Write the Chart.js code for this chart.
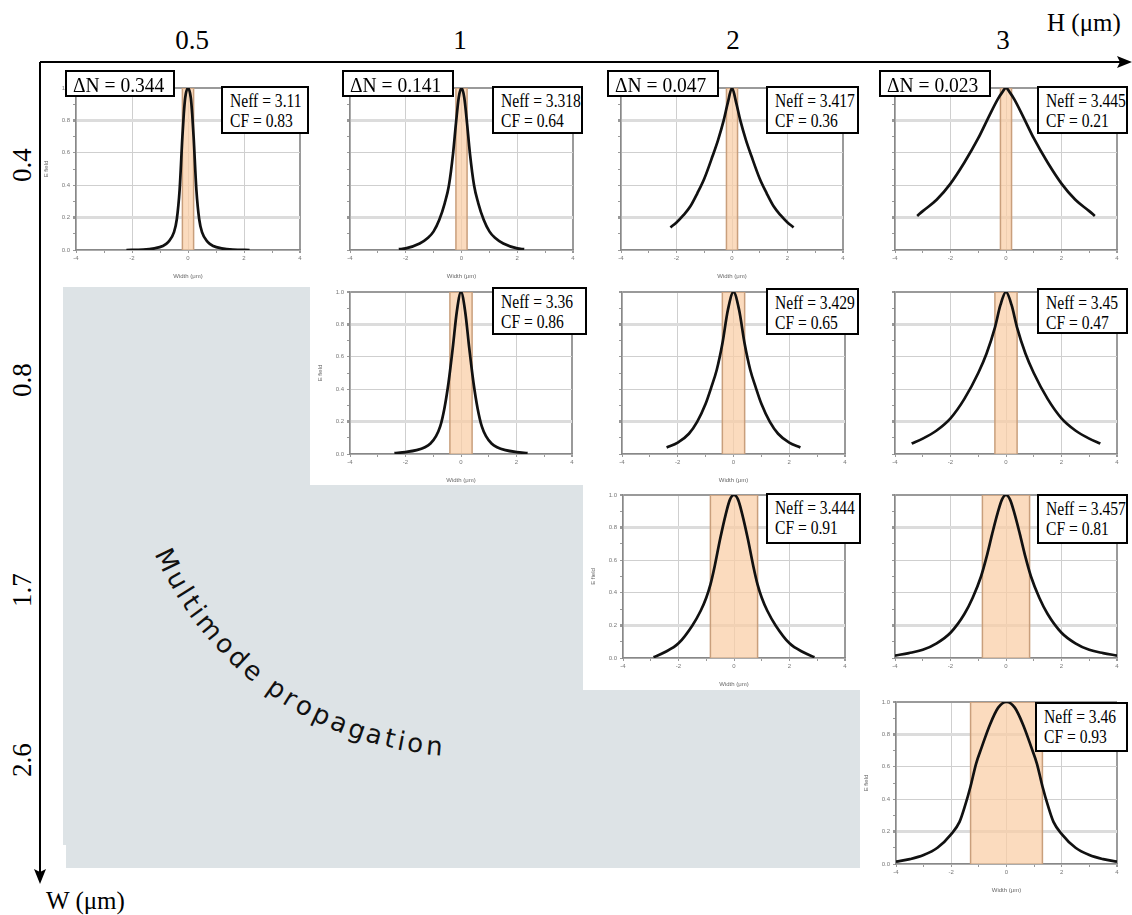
<!DOCTYPE html>
<html>
<head>
<meta charset="utf-8">
<script src="https://cdn.jsdelivr.net/npm/chart.js@4.4.1/dist/chart.umd.min.js"></script>
<style>
  body { margin: 0; background: #fff; width: 1132px; height: 915px; overflow: hidden; position: relative; font-family: 'Liberation Serif', 'Times New Roman', serif; }
  .lab { position: absolute; font-size: 27px; line-height: 28px; white-space: nowrap; color: #000; }
  .rot { transform: translate(-50%, -50%) rotate(-90deg); }
  .box { position: absolute; background: #fff; border: 2px solid #000; box-sizing: border-box; white-space: nowrap; color: #000; overflow: hidden; }
  .neff { font-size: 19px; line-height: 20px; padding: 3px 0 0 7px; }
  .neff span { display: inline-block; transform: scaleX(0.82); transform-origin: 0 0; }
  .dn { font-size: 21px; line-height: 22px; padding: 2px 0 0 6px; }
  .dn span { display: inline-block; transform: scaleX(0.93); transform-origin: 0 0; }
  .grey { position: absolute; left: 0; top: 0; width: 1132px; height: 915px; background: #dde3e6;
    clip-path: polygon(63px 287px, 310px 287px, 310px 485px, 583px 485px, 583px 690px, 860px 690px, 860px 868px, 66px 868px, 66px 845px, 63px 845px); }
  .panel { position: absolute; }
</style>
</head>
<body>
<div class="grey"></div>
<svg width="1132" height="915" style="position:absolute;left:0;top:0">
  <line x1="40" y1="62" x2="1122" y2="62" stroke="#000" stroke-width="2"/>
  <polygon points="1132,62 1117,56 1120,62 1117,68" fill="#000"/>
  <line x1="40" y1="62" x2="40" y2="872" stroke="#000" stroke-width="2"/>
  <polygon points="40,884 34,869 40,872 46,869" fill="#000"/>
</svg>
<script>
// axis values of the figure
const hLabels = ['0.5', '1', '2', '3'];
const wLabels = ['0.4', '0.8', '1.7', '2.6'];
const deltaN = ['0.344', '0.141', '0.047', '0.023'];
// half width of the core (orange band) for each W row
const coreHalf = [0.2, 0.4, 0.85, 1.3];

// one entry per plotted panel, read row by row
const neffValues = ['3.11', '3.318', '3.417', '3.445', '3.36', '3.429', '3.45', '3.444', '3.457', '3.46'];
const cfValues = ['0.83', '0.64', '0.36', '0.21', '0.86', '0.65', '0.47', '0.91', '0.81', '0.93'];

// E field profiles
const x_04_05 = [-2.2, -1.6, -1.2, -0.9, -0.7, -0.5, -0.4, -0.3, -0.2, -0.15, -0.1, 0, 0.1, 0.15, 0.2, 0.3, 0.4, 0.5, 0.7, 0.9, 1.2, 1.6, 2.2];
const y_04_05 = [0, 0.002, 0.01, 0.025, 0.05, 0.11, 0.19, 0.37, 0.7, 0.84, 0.94, 1, 0.94, 0.84, 0.7, 0.37, 0.19, 0.11, 0.05, 0.025, 0.01, 0.002, 0];

const x_04_1 = [-2.25, -2, -1.5, -1.2, -1, -0.8, -0.6, -0.45, -0.3, -0.2, -0.1, 0, 0.1, 0.2, 0.3, 0.45, 0.6, 0.8, 1, 1.2, 1.5, 2, 2.25];
const y_04_1 = [0.005, 0.01, 0.04, 0.075, 0.115, 0.185, 0.29, 0.4, 0.6, 0.78, 0.94, 1, 0.94, 0.78, 0.6, 0.4, 0.29, 0.185, 0.115, 0.075, 0.04, 0.01, 0.005];

const x_04_2 = [-2.22, -2, -1.75, -1.5, -1.25, -1, -0.7, -0.5, -0.3, -0.15, 0, 0.15, 0.3, 0.5, 0.7, 1, 1.25, 1.5, 1.75, 2, 2.22];
const y_04_2 = [0.14, 0.17, 0.215, 0.27, 0.35, 0.44, 0.58, 0.68, 0.8, 0.91, 1, 0.91, 0.8, 0.68, 0.58, 0.44, 0.35, 0.27, 0.215, 0.17, 0.14];

const x_04_3 = [-3.2, -3, -2.5, -2, -1.5, -1, -0.6, -0.3, -0.15, 0, 0.15, 0.3, 0.6, 1, 1.5, 2, 2.5, 3, 3.2];
const y_04_3 = [0.21, 0.24, 0.31, 0.41, 0.54, 0.69, 0.83, 0.93, 0.97, 1, 0.97, 0.93, 0.83, 0.69, 0.54, 0.41, 0.31, 0.24, 0.21];

const x_08_1 = [-2.4, -2, -1.6, -1.3, -1.1, -0.9, -0.75, -0.6, -0.45, -0.3, -0.15, 0, 0.15, 0.3, 0.45, 0.6, 0.75, 0.9, 1.1, 1.3, 1.6, 2, 2.4];
const y_08_1 = [0.005, 0.012, 0.024, 0.042, 0.065, 0.11, 0.17, 0.28, 0.44, 0.65, 0.88, 1, 0.88, 0.65, 0.44, 0.28, 0.17, 0.11, 0.065, 0.042, 0.024, 0.012, 0.005];

const x_08_2 = [-2.4, -2, -1.6, -1.3, -1, -0.8, -0.6, -0.4, -0.2, 0, 0.2, 0.4, 0.6, 0.8, 1, 1.3, 1.6, 2, 2.4];
const y_08_2 = [0.04, 0.07, 0.125, 0.2, 0.31, 0.41, 0.52, 0.68, 0.89, 1, 0.89, 0.68, 0.52, 0.41, 0.31, 0.2, 0.125, 0.07, 0.04];

const x_08_3 = [-3.4, -3, -2.5, -2, -1.5, -1, -0.7, -0.4, -0.2, 0, 0.2, 0.4, 0.7, 1, 1.5, 2, 2.5, 3, 3.4];
const y_08_3 = [0.065, 0.095, 0.145, 0.22, 0.34, 0.5, 0.62, 0.78, 0.92, 1, 0.92, 0.78, 0.62, 0.5, 0.34, 0.22, 0.145, 0.095, 0.065];

const x_17_2 = [-2.9, -2.5, -2, -1.5, -1.2, -1, -0.85, -0.7, -0.5, -0.3, -0.15, 0, 0.15, 0.3, 0.5, 0.7, 0.85, 1, 1.2, 1.5, 2, 2.5, 2.9];
const y_17_2 = [0.005, 0.035, 0.09, 0.2, 0.29, 0.37, 0.45, 0.56, 0.73, 0.88, 0.97, 1, 0.97, 0.88, 0.73, 0.56, 0.45, 0.37, 0.29, 0.2, 0.09, 0.035, 0.005];

const x_17_3 = [-4, -3.5, -3, -2.5, -2, -1.5, -1.2, -0.9, -0.7, -0.5, -0.3, -0.15, 0, 0.15, 0.3, 0.5, 0.7, 0.9, 1.2, 1.5, 2, 2.5, 3, 3.5, 4];
const y_17_3 = [0.015, 0.03, 0.05, 0.09, 0.155, 0.27, 0.37, 0.5, 0.62, 0.76, 0.89, 0.97, 1, 0.97, 0.89, 0.76, 0.62, 0.5, 0.37, 0.27, 0.155, 0.09, 0.05, 0.03, 0.015];

const x_26_3 = [-4, -3.5, -3, -2.5, -2, -1.7, -1.5, -1.3, -1.1, -0.9, -0.6, -0.3, 0, 0.3, 0.6, 0.9, 1.1, 1.3, 1.5, 1.7, 2, 2.5, 3, 3.5, 4];
const y_26_3 = [0.014, 0.03, 0.055, 0.1, 0.185, 0.26, 0.36, 0.48, 0.62, 0.72, 0.86, 0.965, 1, 0.965, 0.86, 0.72, 0.62, 0.48, 0.36, 0.26, 0.185, 0.1, 0.055, 0.03, 0.014];

const profiles = [
  [x_04_05, y_04_05], [x_04_1, y_04_1], [x_04_2, y_04_2], [x_04_3, y_04_3],
  [x_08_1, y_08_1], [x_08_2, y_08_2], [x_08_3, y_08_3],
  [x_17_2, y_17_2], [x_17_3, y_17_3],
  [x_26_3, y_26_3]
];

// page layout: plot area [left, top, right, bottom] and the Neff box [left, top, width, height]
const panels = [
  { row: 0, col: 0, plot: [76, 88, 300, 250], yLab: true,  xTitle: true,  neff: [221, 86, 88, 48] },
  { row: 0, col: 1, plot: [350, 88, 573, 250], yLab: false, xTitle: true,  neff: [492, 86, 91, 48] },
  { row: 0, col: 2, plot: [621, 88, 843, 250], yLab: false, xTitle: true,  neff: [766, 86, 93, 48] },
  { row: 0, col: 3, plot: [895, 88, 1117, 250], yLab: false, xTitle: false, neff: [1037, 86, 91, 48] },
  { row: 1, col: 1, plot: [350, 292, 572, 454], yLab: true,  xTitle: true,  neff: [492, 287, 95, 48] },
  { row: 1, col: 2, plot: [622, 292, 845, 454], yLab: false, xTitle: true,  neff: [766, 288, 93, 47] },
  { row: 1, col: 3, plot: [895, 292, 1117, 454], yLab: false, xTitle: false, neff: [1037, 288, 91, 46] },
  { row: 2, col: 2, plot: [623, 495, 845, 658], yLab: true,  xTitle: true,  neff: [766, 493, 95, 51] },
  { row: 2, col: 3, plot: [895, 495, 1117, 658], yLab: false, xTitle: false, neff: [1037, 494, 91, 50] },
  { row: 3, col: 3, plot: [896, 702, 1117, 864], yLab: true,  xTitle: true,  neff: [1035, 702, 93, 50] }
];
const dnBoxes = [[65, 70, 110, 27], [342, 70, 112, 27], [607, 70, 112, 27], [879, 70, 112, 27]];
const hLabelX = [192, 460, 733, 1003];
const wLabelY = [165, 380, 590, 760];

function addDiv(cls, css, html) {
  const d = document.createElement('div');
  d.className = cls;
  d.style.cssText = css;
  d.innerHTML = html;
  document.body.appendChild(d);
  return d;
}

function makePanel(p, i) {
  const padL = 34, padR = 8, padT = 8, padB = 30;
  const w = p.plot[2] - p.plot[0], h = p.plot[3] - p.plot[1];
  const holder = addDiv('panel', `left:${p.plot[0] - padL}px;top:${p.plot[1] - padT}px;width:${w + padL + padR}px;height:${h + padT + padB}px;`, '');
  const cv = document.createElement('canvas');
  holder.appendChild(cv);

  const xs = profiles[i][0], ys = profiles[i][1];
  const half = coreHalf[p.row];
  const tickFont = { size: 6, family: 'Liberation Sans' };

  new Chart(cv, {
    type: 'line',
    data: {
      datasets: [
        {
          data: xs.map((x, k) => ({ x: x, y: ys[k] })),
          borderColor: '#111',
          borderWidth: 2.7,
          pointRadius: 0,
          cubicInterpolationMode: 'monotone',
          fill: false,
          order: 0
        },
        {
          data: [{ x: -half, y: 0 }, { x: -half, y: 1 }, { x: half, y: 1 }, { x: half, y: 0 }],
          borderColor: '#c99f7c',
          borderWidth: 1.5,
          backgroundColor: 'rgba(249,205,165,0.72)',
          pointRadius: 0,
          tension: 0,
          fill: 'origin',
          order: 1
        }
      ]
    },
    options: {
      responsive: true,
      maintainAspectRatio: false,
      animation: false,
      events: [],
      layout: { padding: { top: padT, right: padR, left: 0, bottom: 0 } },
      plugins: { legend: { display: false }, tooltip: { enabled: false } },
      scales: {
        x: {
          type: 'linear', min: -4, max: 4,
          ticks: {
            stepSize: 1, autoSkip: false, maxRotation: 0, padding: 2,
            font: tickFont, color: '#777',
            callback: v => (Math.round(v) % 2 === 0 ? String(v) : '')
          },
          grid: {
            color: ctx => {
              const v = Math.round(ctx.tick.value);
              if (v % 2 !== 0) return 'rgba(0,0,0,0)';
              return v === 4 ? '#9a9a9a' : '#cfcfcf';
            },
            lineWidth: ctx => (Math.round(ctx.tick.value) === 4 ? 2 : 1),
            tickColor: '#999', tickLength: 3
          },
          border: { color: '#888', width: 1.5 },
          title: { display: p.xTitle, text: 'Width (μm)', font: tickFont, color: '#666', padding: { top: 3, bottom: 0 } },
          afterFit: s => { s.height = padB; }
        },
        y: {
          min: 0, max: 1,
          ticks: {
            stepSize: 0.1, autoSkip: false, padding: 3,
            font: tickFont, color: '#777',
            callback: v => (p.yLab && Math.round(v * 10) % 2 === 0 ? v.toFixed(1) : '')
          },
          grid: {
            color: ctx => {
              const v = Math.round(ctx.tick.value * 10);
              if (v % 2 !== 0) return 'rgba(0,0,0,0)';
              if (v === 10) return '#9a9a9a';
              if (v === 2 || v === 8) return '#dcdcdc';
              return '#cfcfcf';
            },
            lineWidth: ctx => {
              const v = Math.round(ctx.tick.value * 10);
              if (v === 10) return 2;
              if (v === 2 || v === 8) return 3;
              return 1;
            },
            tickColor: '#999', tickLength: 3
          },
          border: { color: '#888', width: 1.5 },
          title: { display: p.yLab, text: 'E field', font: tickFont, color: '#666', padding: 1 },
          afterFit: s => { s.width = padL; }
        }
      }
    }
  });

  const b = p.neff;
  addDiv('box neff', `left:${b[0]}px;top:${b[1]}px;width:${b[2]}px;height:${b[3]}px;`,
    `<span>Neff = ${neffValues[i]}<br>CF = ${cfValues[i]}</span>`);
}

panels.forEach(makePanel);

dnBoxes.forEach((b, c) => {
  addDiv('box dn', `left:${b[0]}px;top:${b[1]}px;width:${b[2]}px;height:${b[3]}px;`, `<span>ΔN = ${deltaN[c]}</span>`);
});

hLabels.forEach((t, c) => {
  addDiv('lab', `left:${hLabelX[c]}px;top:40px;transform:translate(-50%,-50%);`, t);
});
wLabels.forEach((t, r) => {
  addDiv('lab rot', `left:22px;top:${wLabelY[r]}px;`, t);
});
addDiv('lab', 'left:1047px;top:9px;font-size:25px;', 'H (μm)');
addDiv('lab', 'left:46px;top:887px;font-size:25px;', 'W (μm)');

// curved label of the multimode region
const arcText = 'Multimode propagation';
(function drawArcText() {
  const fs = 26, R = 336, cx = 464, cy = 418, midDeg = 125, extra = 3.2;
  const font = `${fs}px "DejaVu Sans"`;
  const mctx = document.createElement('canvas').getContext('2d');
  mctx.font = font;
  const chars = Array.from(arcText);
  const widths = chars.map(ch => mctx.measureText(ch).width + extra);
  const total = widths.reduce((a, b) => a + b, 0);
  let s = -total / 2;
  chars.forEach((ch, k) => {
    const cw = widths[k];
    const th = midDeg * Math.PI / 180 - (s + cw / 2) / R;
    const x = cx + R * Math.cos(th), y = cy + R * Math.sin(th);
    const sp = document.createElement('span');
    sp.textContent = ch;
    sp.style.cssText = `position:absolute;left:${x - cw / 2}px;top:${y - 0.845 * fs}px;width:${cw}px;height:${fs}px;` +
      `line-height:${fs}px;font:${font};text-align:center;white-space:pre;color:#111;` +
      `transform-origin:50% 84.5%;transform:rotate(${th * 180 / Math.PI - 90}deg);`;
    document.body.appendChild(sp);
    s += cw;
  });
})();
</script>
</body>
</html>
